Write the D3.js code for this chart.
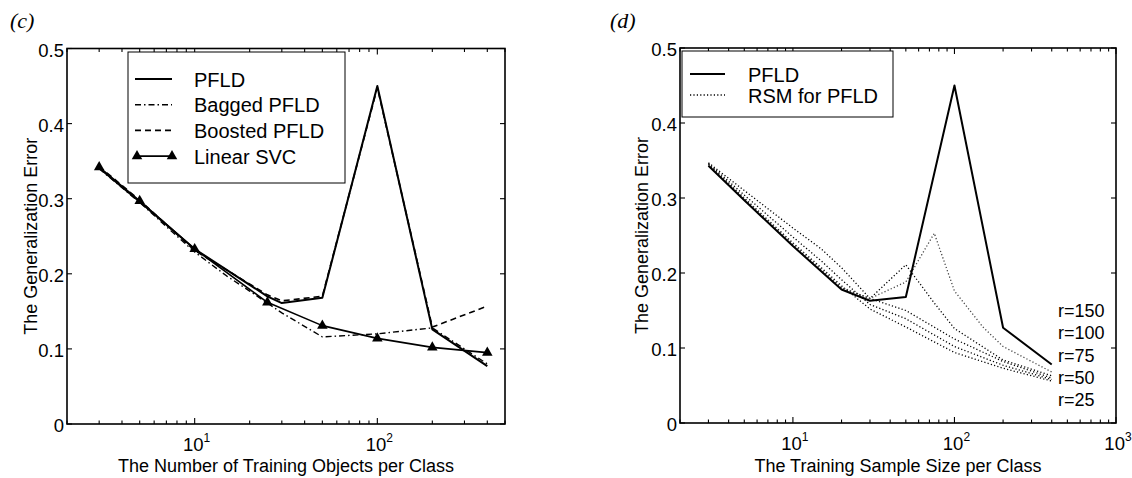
<!DOCTYPE html>
<html><head><meta charset="utf-8">
<script src="https://cdn.jsdelivr.net/npm/d3@7"></script>
<style>
body{margin:0;background:#fff;}
text{font-family:"Liberation Sans",Arial,Helvetica,sans-serif;fill:#000;}
</style>
</head><body><svg id="chart" width="1132" height="478"></svg>
<script>
// ---------- data ----------
const yTickValues = [0, 0.1, 0.2, 0.3, 0.4, 0.5];
const majorTicksC = [10, 100];
const majorTicksD = [10, 100, 1000];

// panel (c)
const pfldXc    = [3, 5, 10, 25, 30, 50, 100, 200, 400];
const pfldC     = [0.341, 0.296, 0.233, 0.170, 0.161, 0.168, 0.450, 0.126, 0.077];
const boostedC  = [0.343, 0.298, 0.231, 0.172, 0.164, 0.170, 0.448, 0.129, 0.157];
const baggedXc  = [3, 5, 10, 15, 20, 30, 50, 100, 200, 400];
const baggedC   = [0.340, 0.295, 0.229, 0.197, 0.177, 0.148, 0.116, 0.120, 0.128, 0.080];
const svcXc     = [3, 5, 10, 25, 50, 100, 200, 400];
const svcC      = [0.342, 0.297, 0.233, 0.162, 0.131, 0.114, 0.102, 0.095];
const legendC   = ["PFLD", "Bagged PFLD", "Boosted PFLD", "Linear SVC"];

// panel (d)
const pfldXd    = [3, 5, 10, 20, 30, 50, 100, 200, 400];
const pfldD     = [0.343, 0.297, 0.236, 0.178, 0.163, 0.168, 0.450, 0.127, 0.078];
const rsmX75    = [3, 5, 10, 20, 30, 50, 75, 100, 150, 200, 400];
const rsm75     = [0.345, 0.299, 0.239, 0.181, 0.166, 0.188, 0.253, 0.176, 0.128, 0.102, 0.068];
const rsmX50    = [3, 5, 10, 20, 30, 50, 75, 100, 200, 400];
const rsm50     = [0.345, 0.298, 0.237, 0.180, 0.166, 0.211, 0.160, 0.126, 0.084, 0.063];
const rsmXlow   = [3, 5, 10, 15, 20, 30, 50, 100, 200, 400];
const rsm150    = [0.347, 0.310, 0.260, 0.232, 0.207, 0.166, 0.150, 0.112, 0.082, 0.060];
const rsm100    = [0.346, 0.304, 0.248, 0.216, 0.191, 0.158, 0.139, 0.102, 0.077, 0.058];
const rsm25     = [0.345, 0.300, 0.240, 0.207, 0.183, 0.152, 0.128, 0.094, 0.073, 0.056];
const rLabels   = ["r=150", "r=100", "r=75", "r=50", "r=25"];
const legendD   = ["PFLD", "RSM for PFLD"];

// ---------- drawing ----------
const svg = d3.select("#chart");
svg.append("rect").attr("width",1132).attr("height",478).attr("fill","#fff");

const STYLE = {
  solid:   {w:2, dash:null},
  dashdot: {w:1.4, dash:"6,3,1.5,3"},
  dashed:  {w:1.6, dash:"6,4"},
  dotted:  {w:1.3, dash:"1.2,2.2"},
};

function panel(cfg){
  const g = svg.append("g");
  const x = d3.scaleLog().domain(cfg.xDomain).range([cfg.x0, cfg.x1]);
  const y = d3.scaleLinear().domain([0,0.5]).range([cfg.y1, cfg.y0]);

  const [lo, hi] = cfg.xDomain;
  const ticks = [];
  for (let dec = 1; dec <= 1000; dec *= 10){
    for (let k = 1; k <= 9; k++){
      const v = k*dec;
      if (v >= lo && v <= hi) ticks.push({v, major: cfg.majors.includes(v)});
    }
  }
  const tg = g.append("g").attr("stroke","#000").attr("stroke-width",1.1);
  ticks.forEach(t=>{
    const px = x(t.v), L = t.major ? 6 : 3.5;
    tg.append("line").attr("x1",px).attr("x2",px).attr("y1",cfg.y1).attr("y2",cfg.y1-L);
    tg.append("line").attr("x1",px).attr("x2",px).attr("y1",cfg.y0).attr("y2",cfg.y0+L);
  });
  yTickValues.forEach(v=>{
    const py = y(v);
    tg.append("line").attr("x1",cfg.x0).attr("x2",cfg.x0+5).attr("y1",py).attr("y2",py);
    tg.append("line").attr("x1",cfg.x1).attr("x2",cfg.x1-5).attr("y1",py).attr("y2",py);
    g.append("text").attr("x",cfg.x0-3).attr("y",py+8).attr("text-anchor","end")
      .attr("font-size",18.5).text(v===0?"0":v.toFixed(1));
  });
  cfg.majors.forEach(v=>{
    const t = g.append("text").attr("x",x(v)+2).attr("y",cfg.y1+27)
      .attr("text-anchor","middle").attr("font-size",18.5);
    t.append("tspan").text("10");
    t.append("tspan").attr("dy",-9).attr("font-size",12).text(String(Math.round(Math.log10(v))));
  });
  g.append("rect").attr("x",cfg.x0).attr("y",cfg.y0).attr("width",cfg.x1-cfg.x0)
    .attr("height",cfg.y1-cfg.y0).attr("fill","none").attr("stroke","#000").attr("stroke-width",1.6);

  g.append("text").attr("x",(cfg.x0+cfg.x1)/2).attr("y",472).attr("text-anchor","middle")
    .attr("font-size",18).text(cfg.xLabel);
  g.append("text").attr("transform",`translate(${cfg.yLabelX},${(cfg.y0+cfg.y1)/2}) rotate(-90)`)
    .attr("text-anchor","middle").attr("font-size",18).text("The Generalization Error");
  g.append("text").attr("x",cfg.tagX).attr("y",28).attr("font-size",22)
    .attr("font-style","italic").style("font-family","'Liberation Serif','Times New Roman',serif")
    .text(cfg.tag);

  const line = d3.line().x(d=>x(d[0])).y(d=>y(d[1]));
  function series(xs, ys, st, color){
    const s = STYLE[st];
    const p = g.append("path").datum(xs.map((v,i)=>[v, ys[i]]))
      .attr("d", line).attr("fill","none").attr("stroke", color||"#000")
      .attr("stroke-width", s.w).attr("stroke-linejoin","round");
    if (s.dash) p.attr("stroke-dasharray", s.dash);
    return p;
  }
  return {g, x, y, series};
}

// ---- panel (c)
const pc = panel({x0:67, x1:505, y0:48.5, y1:424, xDomain:[2,500], majors:majorTicksC,
  xLabel:"The Number of Training Objects per Class", yLabelX:37, tag:"(c)", tagX:10});
pc.series(baggedXc, baggedC, "dashdot");
pc.series(pfldXc, boostedC, "dashed");
pc.series(pfldXc, pfldC, "solid");
pc.series(svcXc, svcC, "solid").attr("stroke-width",1.6);
const tri = d3.symbol().type(d3.symbolTriangle).size(48);
pc.g.selectAll(".tri").data(svcXc.map((v,i)=>[v, svcC[i]])).join("path")
  .attr("d", tri).attr("transform", d=>`translate(${pc.x(d[0])},${pc.y(d[1])})`).attr("fill","#000");

// legend (c)
const lc = pc.g.append("g");
lc.append("rect").attr("x",128).attr("y",52).attr("width",217).attr("height",131)
  .attr("fill","#fff").attr("stroke","#000").attr("stroke-width",1);
const lcStyles = ["solid","dashdot","dashed","solid"];
legendC.forEach((name,i)=>{
  const cy = 79 + i*25.7;
  const s = STYLE[lcStyles[i]];
  const ln = lc.append("line").attr("x1",135).attr("x2",172).attr("y1",cy).attr("y2",cy)
    .attr("stroke","#000").attr("stroke-width", i===3?1.6:s.w);
  if (s.dash) ln.attr("stroke-dasharray", s.dash);
  if (i===3){
    [137,172].forEach(px=> lc.append("path").attr("d",tri).attr("transform",`translate(${px},${cy})`).attr("fill","#000"));
  }
  lc.append("text").attr("x",194).attr("y",cy+7.5).attr("font-size",20).text(name);
});

// ---- panel (d)
const pd = panel({x0:680, x1:1116, y0:48, y1:423, xDomain:[2,1000], majors:majorTicksD,
  xLabel:"The Training Sample Size per Class", yLabelX:648, tag:"(d)", tagX:610});
pd.series(rsmXlow, rsm25, "dotted");
pd.series(rsmXlow, rsm100, "dotted");
pd.series(rsmXlow, rsm150, "dotted");
pd.series(rsmX50, rsm50, "dotted");
pd.series(rsmX75, rsm75, "dotted", "#444");
pd.series(pfldXd, pfldD, "solid");
rLabels.forEach((t,i)=>{
  pd.g.append("text").attr("x",1058).attr("y",317 + i*22.3).attr("font-size",18).text(t);
});

// legend (d)
const ld = pd.g.append("g");
ld.append("rect").attr("x",682).attr("y",51).attr("width",211).attr("height",66)
  .attr("fill","#fff").attr("stroke","#000").attr("stroke-width",1);
["solid","dotted"].forEach((st,i)=>{
  const cy = 74 + i*21;
  const s = STYLE[st];
  const ln = ld.append("line").attr("x1",690).attr("x2",725).attr("y1",cy).attr("y2",cy)
    .attr("stroke","#000").attr("stroke-width",s.w);
  if (s.dash) ln.attr("stroke-dasharray",s.dash);
  ld.append("text").attr("x",748).attr("y",cy+7.5).attr("font-size",20).text(legendD[i]);
});
</script>
</body></html>
